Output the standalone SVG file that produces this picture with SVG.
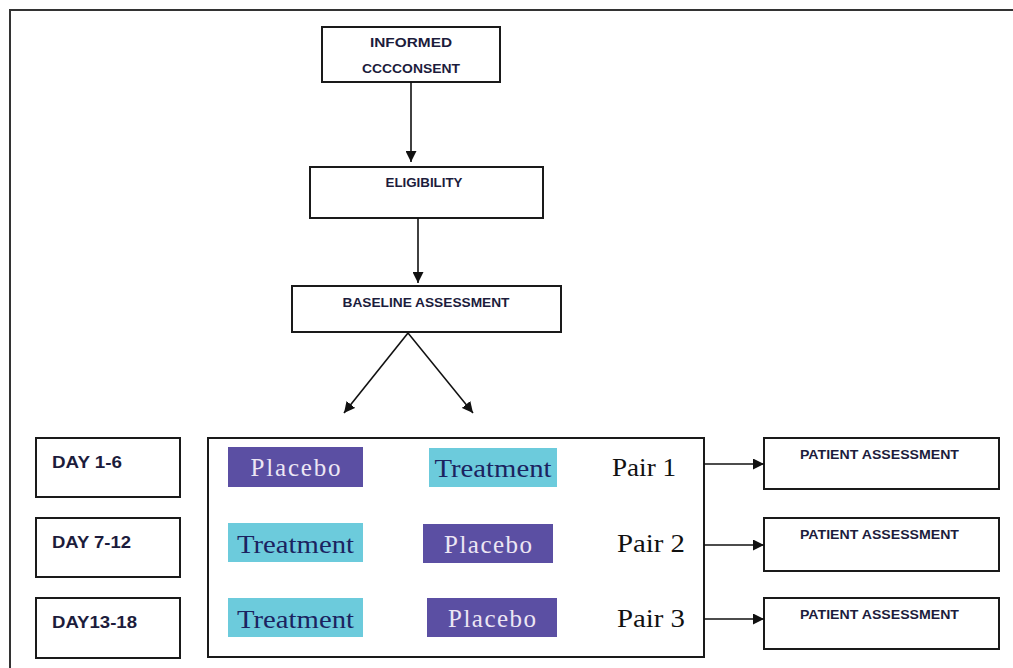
<svg xmlns="http://www.w3.org/2000/svg" width="1013" height="668" viewBox="0 0 1013 668">
<defs>
<marker id="ah" viewBox="0 0 10 10" refX="10" refY="5" markerWidth="11" markerHeight="11" markerUnits="userSpaceOnUse" orient="auto">
<path d="M0,0 L10,5 L0,10 Z" fill="#111"/>
</marker>
</defs>
<style>
.box{fill:#fff;stroke:#1a1a1a;stroke-width:2}
.cap{font-family:"Liberation Sans",Arial,sans-serif;font-weight:bold;font-size:12.5px;fill:#1c1c3c}
.day{font-family:"Liberation Sans",Arial,sans-serif;font-weight:bold;font-size:16px;fill:#1c1c3c}
.plc{fill:#5b4fa3}
.trt{fill:#6ccbdc}
.plt{font-family:"Liberation Serif","Times New Roman",serif;font-size:25px;fill:#ece6f4}
.trtt{font-family:"Liberation Serif","Times New Roman",serif;font-size:25px;fill:#1b2360}
.pair{font-family:"Liberation Serif","Times New Roman",serif;font-size:26px;fill:#111}
.conn{stroke:#111;stroke-width:1.6;fill:none}
</style>
<rect x="0" y="0" width="1013" height="668" fill="#fff"/>
<rect x="10" y="10" width="1030" height="690" fill="none" stroke="#333" stroke-width="2"/>

<g id="informed-consent">
<rect class="box" x="322" y="27" width="178" height="55"/>
<text class="cap" x="411" y="47" text-anchor="middle" textLength="82" lengthAdjust="spacingAndGlyphs">INFORMED</text>
<text class="cap" x="411" y="73" text-anchor="middle" textLength="98" lengthAdjust="spacingAndGlyphs">CCCCONSENT</text>
</g>
<g id="eligibility">
<rect class="box" x="310" y="167" width="233" height="51"/>
<text class="cap" x="424" y="187" text-anchor="middle" textLength="77" lengthAdjust="spacingAndGlyphs">ELIGIBILITY</text>
</g>
<g id="baseline-assessment">
<rect class="box" x="292" y="286" width="269" height="46"/>
<text class="cap" x="426" y="307" text-anchor="middle" textLength="167" lengthAdjust="spacingAndGlyphs">BASELINE ASSESSMENT</text>
</g>

<g id="day-1-6">
<rect class="box" x="36" y="438" width="144" height="59"/>
<text class="day" x="52" y="468" textLength="70" lengthAdjust="spacingAndGlyphs">DAY 1-6</text>
</g>
<g id="day-7-12">
<rect class="box" x="36" y="518" width="144" height="59"/>
<text class="day" x="52" y="548" textLength="79" lengthAdjust="spacingAndGlyphs">DAY 7-12</text>
</g>
<g id="day-13-18">
<rect class="box" x="36" y="598" width="144" height="60"/>
<text class="day" x="52" y="628" textLength="85" lengthAdjust="spacingAndGlyphs">DAY13-18</text>
</g>

<g id="pairs">
<rect class="box" x="208" y="438" width="496" height="219"/>
<rect class="plc" x="228" y="447" width="135" height="40"/>
<text class="plt" x="295.5" y="476" text-anchor="middle" textLength="90" lengthAdjust="spacing">Placebo</text>
<rect class="trt" x="429" y="448" width="128" height="39"/>
<text class="trtt" x="493" y="477" text-anchor="middle" textLength="117" lengthAdjust="spacingAndGlyphs">Treatment</text>
<text class="pair" x="612" y="476" textLength="64" lengthAdjust="spacingAndGlyphs">Pair 1</text>

<rect class="trt" x="228" y="523" width="135" height="39"/>
<text class="trtt" x="295.5" y="553" text-anchor="middle" textLength="117" lengthAdjust="spacingAndGlyphs">Treatment</text>
<rect class="plc" x="423" y="524" width="130" height="39"/>
<text class="plt" x="488" y="553" text-anchor="middle" textLength="88" lengthAdjust="spacing">Placebo</text>
<text class="pair" x="617" y="552" textLength="68" lengthAdjust="spacingAndGlyphs">Pair 2</text>

<rect class="trt" x="228" y="598" width="135" height="39"/>
<text class="trtt" x="295.5" y="628" text-anchor="middle" textLength="117" lengthAdjust="spacingAndGlyphs">Treatment</text>
<rect class="plc" x="427" y="598" width="130" height="39"/>
<text class="plt" x="492" y="627" text-anchor="middle" textLength="88" lengthAdjust="spacing">Placebo</text>
<text class="pair" x="617" y="627" textLength="68" lengthAdjust="spacingAndGlyphs">Pair 3</text>
</g>

<g id="patient-assessment-1">
<rect class="box" x="764" y="438" width="235" height="51"/>
<text class="cap" x="879.5" y="459" text-anchor="middle" textLength="159" lengthAdjust="spacingAndGlyphs">PATIENT ASSESSMENT</text>
</g>
<g id="patient-assessment-2">
<rect class="box" x="764" y="518" width="235" height="53"/>
<text class="cap" x="879.5" y="539" text-anchor="middle" textLength="159" lengthAdjust="spacingAndGlyphs">PATIENT ASSESSMENT</text>
</g>
<g id="patient-assessment-3">
<rect class="box" x="764" y="598" width="235" height="51"/>
<text class="cap" x="879.5" y="619" text-anchor="middle" textLength="159" lengthAdjust="spacingAndGlyphs">PATIENT ASSESSMENT</text>
</g>

<g id="connectors">
<line class="conn" x1="411" y1="82" x2="411" y2="162" marker-end="url(#ah)"/>
<line class="conn" x1="418" y1="218" x2="418" y2="283" marker-end="url(#ah)"/>
<line class="conn" x1="408" y1="333" x2="344" y2="413" marker-end="url(#ah)"/>
<line class="conn" x1="408" y1="333" x2="473" y2="413" marker-end="url(#ah)"/>
<line class="conn" x1="704" y1="464" x2="764" y2="464" marker-end="url(#ah)"/>
<line class="conn" x1="704" y1="545" x2="764" y2="545" marker-end="url(#ah)"/>
<line class="conn" x1="704" y1="619" x2="764" y2="619" marker-end="url(#ah)"/>
</g>
</svg>
